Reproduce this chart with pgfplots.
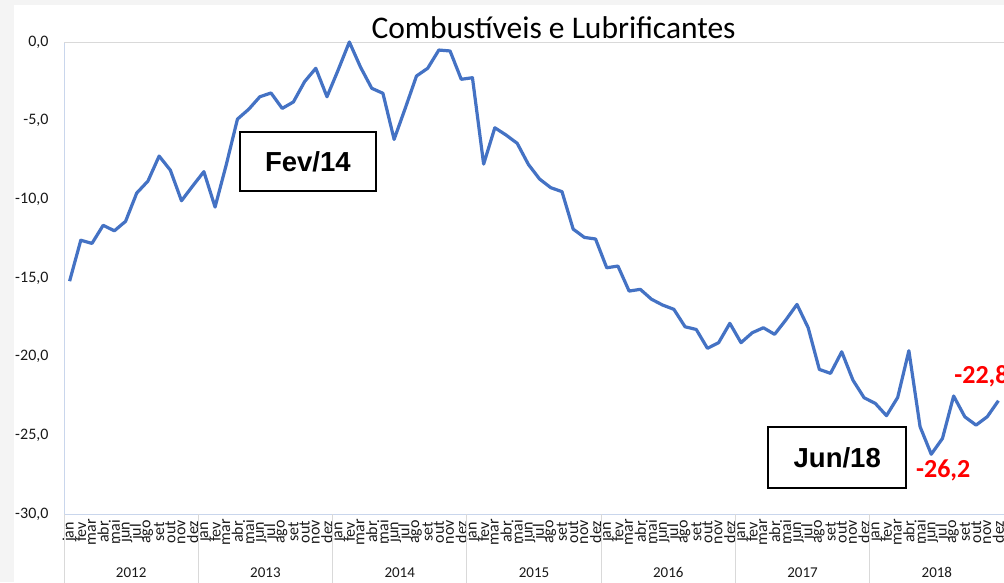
\documentclass[border=0pt]{standalone}
\usepackage{pgfplots}
\pgfplotsset{compat=1.18}
\usepackage{fontspec}
\setmainfont{Carlito}
\newfontfamily\arialfont{Liberation Sans}
\definecolor{linec}{HTML}{4472C4}
\definecolor{axisc}{HTML}{C9D6EC}
\definecolor{gridc}{HTML}{D9D9D9}
\definecolor{bgc}{HTML}{F4F4F4}
\begin{document}
\begin{tikzpicture}
\fill[bgc] (0,0) rectangle (1004pt,-582pt);
\fill[white] (14pt,-5pt) rectangle (1004pt,-582pt);
\begin{axis}[
  at={(64pt,-514pt)}, anchor=south west,
  scale only axis, width=940pt, height=472pt,
  xmin=-0.5, xmax=83.5, ymin=-30, ymax=0,
  clip=false,
  axis x line*=bottom, axis y line*=left,
  axis line style={-, draw=axisc, line width=1pt},
  major tick length=0pt,
  xtick={0,...,83},
  xticklabels={jan,fev,mar,abr,mai,jun,jul,ago,set,out,nov,dez,
               jan,fev,mar,abr,mai,jun,jul,ago,set,out,nov,dez,
               jan,fev,mar,abr,mai,jun,jul,ago,set,out,nov,dez,
               jan,fev,mar,abr,mai,jun,jul,ago,set,out,nov,dez,
               jan,fev,mar,abr,mai,jun,jul,ago,set,out,nov,dez,
               jan,fev,mar,abr,mai,jun,jul,ago,set,out,nov,dez,
               jan,fev,mar,abr,mai,jun,jul,ago,set,out,nov,dez},
  xticklabel shift=18pt,
  xticklabel style={rotate=90, anchor=center, inner sep=0pt, font=\fontsize{16}{16}\selectfont, text=black!90},
  ytick={-30,-25,-20,-15,-10,-5,0},
  yticklabels={{-30,0},{-25,0},{-20,0},{-15,0},{-10,0},{-5,0},{0,0}},
  yticklabel style={font=\fontsize{16}{18}\selectfont, xshift=-12pt, text=black!90},
]
\draw[gridc, line width=1pt] (axis cs:-0.5,0) -- (axis cs:83.5,0);
% year separators
\draw[gridc, line width=1pt] (axis cs:-0.5,-30) -- ([yshift=-70pt]axis cs:-0.5,-30);
\draw[gridc, line width=1pt] (axis cs:11.5,-30) -- ([yshift=-70pt]axis cs:11.5,-30);
\draw[gridc, line width=1pt] (axis cs:23.5,-30) -- ([yshift=-70pt]axis cs:23.5,-30);
\draw[gridc, line width=1pt] (axis cs:35.5,-30) -- ([yshift=-70pt]axis cs:35.5,-30);
\draw[gridc, line width=1pt] (axis cs:47.5,-30) -- ([yshift=-70pt]axis cs:47.5,-30);
\draw[gridc, line width=1pt] (axis cs:59.5,-30) -- ([yshift=-70pt]axis cs:59.5,-30);
\draw[gridc, line width=1pt] (axis cs:71.5,-30) -- ([yshift=-70pt]axis cs:71.5,-30);
% year labels
\node[anchor=base, font=\fontsize{15}{15}\selectfont, text=black!90] at ([yshift=-63pt]axis cs:5.5,-30) {2012};
\node[anchor=base, font=\fontsize{15}{15}\selectfont, text=black!90] at ([yshift=-63pt]axis cs:17.5,-30) {2013};
\node[anchor=base, font=\fontsize{15}{15}\selectfont, text=black!90] at ([yshift=-63pt]axis cs:29.5,-30) {2014};
\node[anchor=base, font=\fontsize{15}{15}\selectfont, text=black!90] at ([yshift=-63pt]axis cs:41.5,-30) {2015};
\node[anchor=base, font=\fontsize{15}{15}\selectfont, text=black!90] at ([yshift=-63pt]axis cs:53.5,-30) {2016};
\node[anchor=base, font=\fontsize{15}{15}\selectfont, text=black!90] at ([yshift=-63pt]axis cs:65.5,-30) {2017};
\node[anchor=base, font=\fontsize{15}{15}\selectfont, text=black!90] at ([yshift=-63pt]axis cs:77.5,-30) {2018};

\addplot[linec, line width=3.2pt, line join=round, mark=none] coordinates {
(0,-15.2) (1,-12.6) (2,-12.8) (3,-11.65) (4,-12.0) (5,-11.4) (6,-9.6) (7,-8.84) (8,-7.25) (9,-8.14) (10,-10.09) (11,-9.15)
(12,-8.24) (13,-10.49) (14,-7.8) (15,-4.9) (16,-4.28) (17,-3.48) (18,-3.24) (19,-4.22) (20,-3.81) (21,-2.52) (22,-1.67) (23,-3.48)
(24,-1.78) (25,0.0) (26,-1.6) (27,-2.94) (28,-3.26) (29,-6.19) (30,-4.2) (31,-2.16) (32,-1.67) (33,-0.51) (34,-0.57) (35,-2.37)
(36,-2.27) (37,-7.76) (38,-5.45) (39,-5.91) (40,-6.44) (41,-7.78) (42,-8.71) (43,-9.26) (44,-9.51) (45,-11.89) (46,-12.42) (47,-12.52)
(48,-14.35) (49,-14.24) (50,-15.83) (51,-15.72) (52,-16.35) (53,-16.72) (54,-16.99) (55,-18.1) (56,-18.27) (57,-19.47) (58,-19.11) (59,-17.88)
(60,-19.11) (61,-18.48) (62,-18.16) (63,-18.58) (64,-17.67) (65,-16.68) (66,-18.16) (67,-20.81) (68,-21.06) (69,-19.69) (70,-21.49) (71,-22.61)
(72,-22.97) (73,-23.75) (74,-22.59) (75,-19.62) (76,-24.45) (77,-26.2) (78,-25.2) (79,-22.5) (80,-23.82) (81,-24.35) (82,-23.82) (83,-22.8)
};

% title
\node[anchor=base, font=\fontsize{31.5}{31.5}\selectfont] at ([yshift=3.5pt]axis cs:43.25,0) {Combustíveis e Lubrificantes};
% boxes
\node[draw=black, line width=2pt, fill=white, minimum width=136pt, minimum height=59pt, inner sep=0pt,
      font=\arialfont\bfseries\fontsize{27.5}{27.5}\selectfont] at (axis cs:21.29,-7.6) {Fev/14};
\node[draw=black, line width=2pt, fill=white, minimum width=138pt, minimum height=61pt, inner sep=0pt,
      font=\arialfont\bfseries\fontsize{27.5}{27.5}\selectfont] at (axis cs:68.6,-26.41) {Jun/18};
% red labels
\node[text=red, font=\bfseries\fontsize{26}{26}\selectfont, inner sep=0pt] at (axis cs:78.07,-27.2) {-26,2};
\node[text=red, font=\bfseries\fontsize{26}{26}\selectfont, inner sep=0pt, anchor=west] at (axis cs:79.05,-21.27) {-22,8};
\end{axis}
\pgfresetboundingbox
\path[use as bounding box] (0,0) rectangle (1004pt,-582pt);
\end{tikzpicture}
\end{document}
